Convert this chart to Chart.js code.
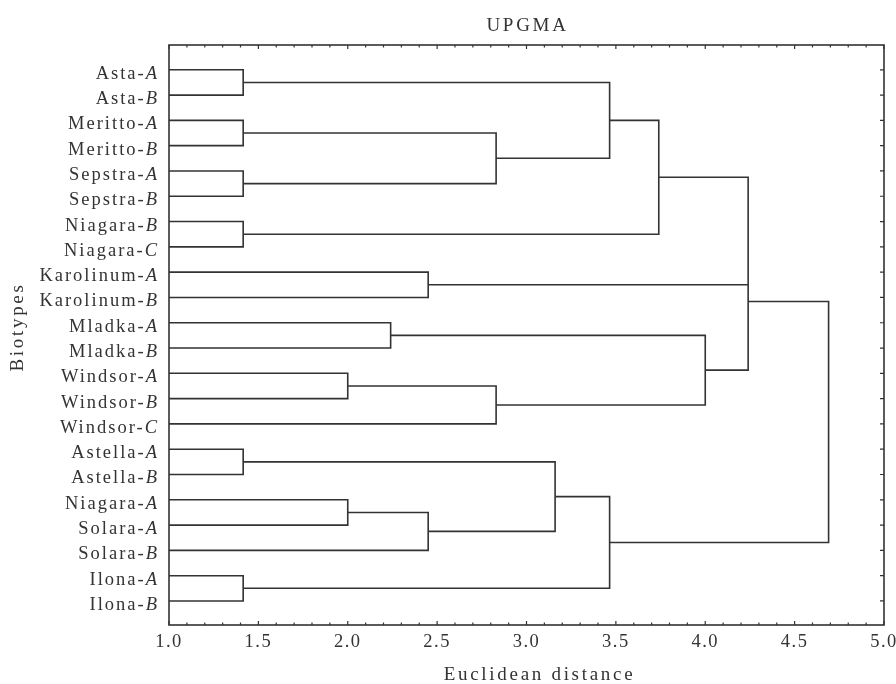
<!DOCTYPE html>
<html>
<head>
<meta charset="utf-8">
<script src="https://cdn.jsdelivr.net/npm/chart.js@4.4.1/dist/chart.umd.min.js"></script>
<style>
  html, body { margin: 0; padding: 0; background: #fff; }
  #wrap { width: 896px; height: 684px; }
</style>
</head>
<body>
<div id="wrap"><canvas id="dendro"></canvas></div>
<script>
// leaves, top to bottom
const leafNames = ["Asta", "Asta", "Meritto", "Meritto", "Sepstra", "Sepstra", "Niagara", "Niagara",
  "Karolinum", "Karolinum", "Mladka", "Mladka", "Windsor", "Windsor", "Windsor",
  "Astella", "Astella", "Niagara", "Solara", "Solara", "Ilona", "Ilona"];
const leafTags = ["A", "B", "A", "B", "A", "B", "B", "C", "A", "B", "A", "B", "A", "B", "C",
  "A", "B", "A", "A", "B", "A", "B"];

// clusters in join order; ids 0-21 are leaves, 22+ are the clusters below
const clusterKids = [[0, 1], [2, 3], [4, 5], [6, 7], [23, 24], [22, 26], [27, 25],
  [8, 9], [10, 11], [12, 13], [31, 14], [30, 32], [28, 29, 33],
  [15, 16], [17, 18], [36, 19], [35, 37], [20, 21], [38, 39], [34, 40]];
const clusterDist = [1.415, 1.415, 1.415, 1.415, 2.83, 3.465, 3.74,
  2.45, 2.24, 2.0, 2.83, 4.0, 4.24,
  1.415, 2.0, 2.45, 3.16, 1.415, 3.465, 4.69];
// row where the joined branch leaves the node (null = middle of children)
const clusterRow = [null, null, null, null, null, null, null,
  null, null, null, null, null, 9.16,
  null, null, null, null, null, null, null];

const xTicks = [1.0, 1.5, 2.0, 2.5, 3.0, 3.5, 4.0, 4.5, 5.0];
const xMinor = [1.1, 1.2, 1.3, 1.4, 1.6, 1.7, 1.8, 1.9, 2.1, 2.2, 2.3, 2.4, 2.6, 2.7, 2.8, 2.9,
  3.1, 3.2, 3.3, 3.4, 3.6, 3.7, 3.8, 3.9, 4.1, 4.2, 4.3, 4.4, 4.6, 4.7, 4.8, 4.9];

const ink = "#333";
const serif = "'Liberation Serif', 'DejaVu Serif', serif";

// build the branch polylines
const nodeX = leafNames.map(() => 1.0);
const nodeY = leafNames.map((n, i) => i);
const datasets = [];
function seg(pts) {
  datasets.push({
    data: pts, showLine: true, borderColor: ink, borderWidth: 1.6,
    pointRadius: 0, tension: 0, fill: false
  });
}
clusterKids.forEach((kids, k) => {
  const h = clusterDist[k];
  const sorted = kids.slice().sort((a, b) => nodeY[a] - nodeY[b]);
  const first = sorted[0], last = sorted[sorted.length - 1];
  seg([{ x: nodeX[first], y: nodeY[first] }, { x: h, y: nodeY[first] },
       { x: h, y: nodeY[last] }, { x: nodeX[last], y: nodeY[last] }]);
  sorted.slice(1, -1).forEach(c => seg([{ x: nodeX[c], y: nodeY[c] }, { x: h, y: nodeY[c] }]));
  const row = clusterRow[k] != null ? clusterRow[k] : (nodeY[first] + nodeY[last]) / 2;
  nodeX.push(h);
  nodeY.push(row);
});

const spacing = {
  id: "spacing",
  beforeDraw(chart) { chart.ctx.letterSpacing = "1.5px"; },
};

const decor = {
  id: "decor",
  afterDraw(chart) {
    const ctx = chart.ctx, a = chart.chartArea;
    const xs = chart.scales.x, ys = chart.scales.y;
    ctx.save();
    ctx.strokeStyle = ink;
    ctx.lineWidth = 1.6;
    ctx.strokeRect(a.left, a.top, a.right - a.left, a.bottom - a.top);
    ctx.lineWidth = 1.2;
    ctx.beginPath();
    xTicks.forEach(v => {
      const px = xs.getPixelForValue(v);
      ctx.moveTo(px, a.bottom); ctx.lineTo(px, a.bottom - 4);
      ctx.moveTo(px, a.top); ctx.lineTo(px, a.top + 4);
    });
    xMinor.forEach(v => {
      const px = xs.getPixelForValue(v);
      ctx.moveTo(px, a.bottom); ctx.lineTo(px, a.bottom - 2.5);
      ctx.moveTo(px, a.top); ctx.lineTo(px, a.top + 2.5);
    });
    leafNames.forEach((n, i) => {
      const py = ys.getPixelForValue(i);
      ctx.moveTo(a.right, py); ctx.lineTo(a.right - 4, py);
    });
    ctx.stroke();

    // leaf labels: name regular, tag italic
    ctx.fillStyle = ink;
    ctx.textBaseline = "alphabetic";
    ctx.textAlign = "right";
    ctx.letterSpacing = "2px";
    const labelRight = a.left - 10;
    leafNames.forEach((n, i) => {
      const py = ys.getPixelForValue(i) + 9;
      ctx.font = "italic 18.5px " + serif;
      ctx.fillText(leafTags[i], labelRight, py);
      const w = ctx.measureText(leafTags[i]).width;
      ctx.font = "18.5px " + serif;
      ctx.fillText(n + "-", labelRight - w, py);
    });

    // titles
    ctx.letterSpacing = "2.7px";
    ctx.font = "19px " + serif;
    ctx.textAlign = "center";
    ctx.fillText("UPGMA", (a.left + a.right) / 2 + 1, 31);
    ctx.fillText("Euclidean distance", (a.left + a.right) / 2 + 13, 680);
    ctx.translate(23, (a.top + a.bottom) / 2 - 8);
    ctx.rotate(-Math.PI / 2);
    ctx.fillText("Biotypes", 0, 0);
    ctx.restore();
  }
};

new Chart(document.getElementById("dendro"), {
  type: "scatter",
  data: { datasets: datasets },
  options: {
    responsive: true,
    maintainAspectRatio: false,
    animation: false,
    layout: { padding: { top: 45, right: 12, left: 0, bottom: 0 } },
    plugins: { legend: { display: false }, tooltip: { enabled: false } },
    scales: {
      x: {
        type: "linear", min: 1, max: 5,
        afterFit: s => { s.height = 59; s.paddingLeft = 0; s.paddingRight = 0; },
        afterBuildTicks: s => { s.ticks = xTicks.map(v => ({ value: v })); },
        grid: { display: false, drawTicks: false },
        border: { display: false },
        ticks: {
          padding: 6, color: ink,
          font: { family: serif, size: 18.5 },
          callback: v => Number(v).toFixed(1)
        }
      },
      y: {
        type: "linear", min: -0.98, max: 21.95, reverse: true,
        afterFit: s => { s.width = 169; },
        grid: { display: false, drawTicks: false },
        border: { display: false },
        ticks: { display: false }
      }
    }
  },
  plugins: [spacing, decor]
});
</script>
</body>
</html>
